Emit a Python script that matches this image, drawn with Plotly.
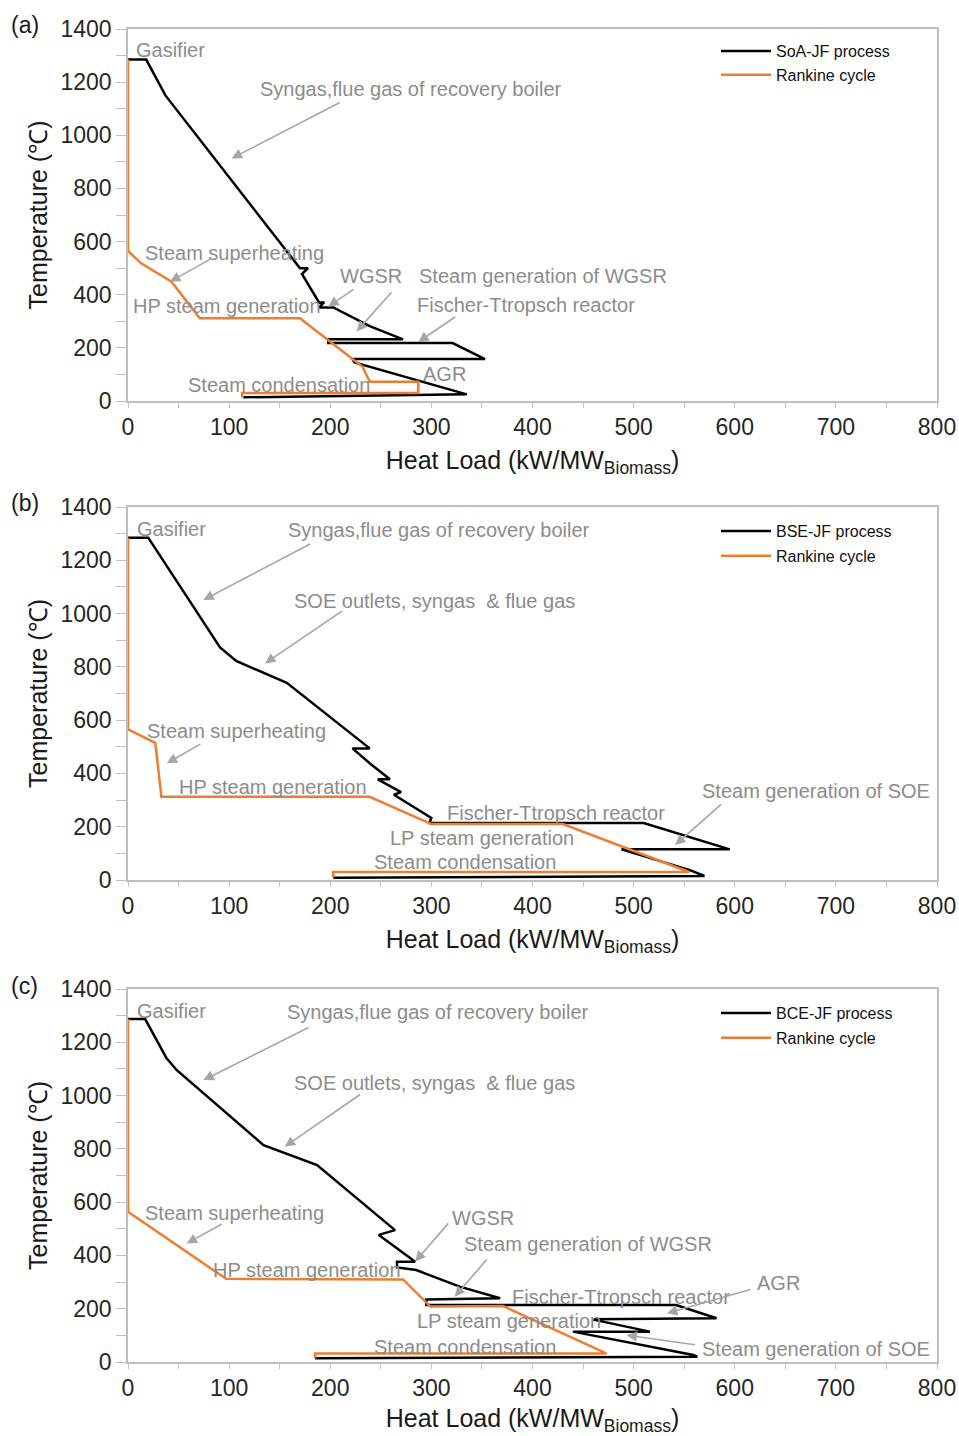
import plotly.graph_objects as go

# ---------------- data ----------------
# Panel (a) SoA-JF
HOT_A_X = [0, 18, 37, 170, 178, 172, 189, 194, 189, 203, 239, 272, 198, 198, 321, 353, 222, 224, 335, 114]
HOT_A_T = [1285, 1285, 1150, 500, 500, 478, 370, 372, 352, 352, 282, 232, 232, 218, 218, 158, 158, 145, 25, 14]
RANK_A_X = [0, 0, 13, 43, 71, 170, 232, 239, 287, 287, 113, 113]
RANK_A_T = [1285, 565, 518, 449, 311, 311, 129, 72, 72, 30, 30, 12]

# Panel (b) BSE-JF
HOT_B_X = [0, 20, 91, 107, 157, 239, 222, 239, 259, 247, 270, 263, 300, 298, 510, 595, 488, 555, 570, 203]
HOT_B_T = [1285, 1285, 873, 822, 740, 494, 494, 438, 378, 378, 330, 320, 233, 214, 214, 115, 115, 38, 15, 8]
RANK_B_X = [0, 0, 27, 33, 239, 300, 430, 555, 203, 203]
RANK_B_T = [1285, 565, 515, 312, 312, 210, 210, 30, 30, 10]

# Panel (c) BCE-JF
HOT_C_X = [0, 17, 38, 48, 134, 187, 264, 248, 284, 266, 266, 285, 328, 368, 295, 295, 542, 582, 459, 516, 440, 559, 563, 185]
HOT_C_T = [1287, 1287, 1141, 1096, 814, 739, 495, 477, 376, 376, 355, 345, 283, 239, 235, 214, 214, 164, 160, 114, 114, 26, 20, 14]
RANK_C_X = [0, 0, 97, 272, 299, 371, 473, 185, 185]
RANK_C_T = [1287, 564, 312, 310, 208, 210, 32, 32, 14]

PROCESS_NAMES = ["SoA-JF process", "BSE-JF process", "BCE-JF process"]
RANKINE_NAME = "Rankine cycle"
PANEL_TAGS = ["(a)", "(b)", "(c)"]

X_TICKS = [0, 100, 200, 300, 400, 500, 600, 700, 800]
Y_TICKS = [0, 200, 400, 600, 800, 1000, 1200, 1400]

# text labels: (text, x_left, y_center)
LABELS_A = [
    ("Gasifier", 6, 1321),
    ("Syngas,flue gas of recovery boiler", 128.6, 1174),
    ("Steam superheating", 14.8, 557),
    ("HP steam generation", 3, 357),
    ("WGSR", 207.7, 470),
    ("Steam generation of WGSR", 285.8, 470),
    ("Fischer-Ttropsch reactor", 283.8, 361),
    ("Steam condensation", 57.4, 60),
    ("AGR", 289.7, 102),
]
LABELS_B = [
    ("Gasifier", 7, 1317),
    ("Syngas,flue gas of recovery boiler", 156, 1314),
    ("SOE outlets, syngas  & flue gas", 162, 1047),
    ("Steam superheating", 16.8, 559),
    ("HP steam generation", 48.5, 349),
    ("Fischer-Ttropsch reactor", 313.5, 251),
    ("LP steam generation", 257, 158),
    ("Steam condensation", 241, 68),
    ("Steam generation of SOE", 565.6, 334),
]
LABELS_C = [
    ("Gasifier", 7, 1317),
    ("Syngas,flue gas of recovery boiler", 155, 1314),
    ("SOE outlets, syngas  & flue gas", 162, 1047),
    ("Steam superheating", 14.8, 559),
    ("HP steam generation", 82, 345),
    ("WGSR", 318.4, 540),
    ("Steam generation of WGSR", 330, 443),
    ("Fischer-Ttropsch reactor", 377.7, 244),
    ("AGR", 620, 296),
    ("LP steam generation", 283.8, 154),
    ("Steam condensation", 241, 56),
    ("Steam generation of SOE", 565.6, 49),
]
# arrows: (tail_x, tail_y, head_x, head_y)
ARROWS_A = [
    (211, 1126, 102.5, 913),
    (83, 537, 41.5, 449),
    (224.5, 424, 198, 355),
    (262, 415, 226, 262),
    (325, 320, 287, 222),
]
ARROWS_B = [
    (181.6, 1264, 74.5, 1051),
    (213, 1013, 135.5, 813),
    (73, 513, 38.3, 438),
    (588, 289, 541, 131),
]
ARROWS_C = [
    (180, 1258, 74.5, 1058),
    (231, 1008, 155, 808),
    (94, 520, 58, 445),
    (318, 526, 284, 377),
    (356, 390, 323, 245),
    (617, 274, 533, 183),
    (562, 64, 493, 101),
]

# ---------------- figure ----------------
BLACK = "#000000"
ORANGE = "#ED7D31"
GRAY_TXT = "#8c8c8c"
GRAY_ARROW = "#a6a6a6"
FONT = "Arial, Liberation Sans, sans-serif"

W, H = 959, 1436
ML, MR, MT, MB = 128, 22, 29, 74
PLOT_H = H - MT - MB
def py(p):  # page pixel -> paper fraction
    return (H - MB - p) / PLOT_H
def px(p):
    return (p - ML) / (W - ML - MR)

domains = [
    [py(401), py(29)],
    [py(880), py(507)],
    [py(1362), py(989)],
]

hot = [(HOT_A_X, HOT_A_T), (HOT_B_X, HOT_B_T), (HOT_C_X, HOT_C_T)]
rank = [(RANK_A_X, RANK_A_T), (RANK_B_X, RANK_B_T), (RANK_C_X, RANK_C_T)]
labels = [LABELS_A, LABELS_B, LABELS_C]
arrows = [ARROWS_A, ARROWS_B, ARROWS_C]
legend_tops = [34, 514, 996]

fig = go.Figure()
annotations = []
layout_axes = {}
for i in range(3):
    sfx = "" if i == 0 else str(i + 1)
    xa, ya = "x" + sfx, "y" + sfx
    lg = "legend" + sfx
    fig.add_trace(go.Scatter(
        x=hot[i][0], y=hot[i][1], mode="lines", name=PROCESS_NAMES[i],
        line=dict(color=BLACK, width=2.5), xaxis=xa, yaxis=ya, legend=lg,
        legendgroup="h%d" % i))
    fig.add_trace(go.Scatter(
        x=rank[i][0], y=rank[i][1], mode="lines", name=RANKINE_NAME,
        line=dict(color=ORANGE, width=2.5), xaxis=xa, yaxis=ya, legend=lg,
        legendgroup="r%d" % i))

    layout_axes["xaxis" + sfx] = dict(
        domain=[0, 1], anchor=ya, range=[0, 800], tickvals=X_TICKS,
        ticks="outside", ticklen=5, tickcolor="#bfbfbf",
        minor=dict(dtick=50, ticks="outside", ticklen=5, tickcolor="#bfbfbf"),
        showline=True, mirror=True, linecolor="#bfbfbf", linewidth=1.5,
        showgrid=False, zeroline=False, automargin=False,
        tickfont=dict(size=23, color="#262626", family=FONT),
        title=dict(text="Heat Load (kW/MW<sub>Biomass</sub>)",
                   font=dict(size=25, color="#1a1a1a", family=FONT), standoff=12),
    )
    layout_axes["yaxis" + sfx] = dict(
        domain=domains[i], anchor=xa, range=[0, 1400], tickvals=Y_TICKS,
        ticks="outside", ticklen=10, tickcolor="#bfbfbf",
        minor=dict(dtick=100, ticks="outside", ticklen=10, tickcolor="#bfbfbf"),
        showline=True, mirror=True, linecolor="#bfbfbf", linewidth=1.5,
        showgrid=False, zeroline=False, automargin=False,
        tickfont=dict(size=23, color="#262626", family=FONT),
        title=dict(text="Temperature (℃)",
                   font=dict(size=25, color="#1a1a1a", family=FONT), standoff=6),
    )
    layout_axes[lg] = dict(
        x=px(716), y=py(legend_tops[i]), xanchor="left", yanchor="top",
        bgcolor="rgba(0,0,0,0)", font=dict(size=16, color="#111", family=FONT),
        tracegroupgap=0 if i == 0 else 1, itemwidth=50,
    )

    for (t, x, y) in labels[i]:
        annotations.append(dict(
            text=t, x=x, y=y, xref=xa, yref=ya, xanchor="left", yanchor="middle",
            showarrow=False, font=dict(size=20, color=GRAY_TXT, family=FONT)))
    for (tx, ty, hx, hy) in arrows[i]:
        annotations.append(dict(
            text="", x=hx, y=hy, ax=tx, ay=ty, xref=xa, yref=ya,
            axref=xa, ayref=ya, showarrow=True, arrowhead=2, arrowsize=1.3,
            arrowwidth=1.6, arrowcolor=GRAY_ARROW))
    annotations.append(dict(
        text=PANEL_TAGS[i], x=px(9), y=py([25, 503, 986][i]), xref="paper",
        yref="paper", xanchor="left", yanchor="middle", showarrow=False,
        font=dict(size=23, color="#1a1a1a", family=FONT)))

fig.update_layout(
    width=W, height=H,
    margin=dict(l=ML, r=MR, t=MT, b=MB, autoexpand=False),
    paper_bgcolor="white", plot_bgcolor="white",
    annotations=annotations,
    showlegend=True,
    **layout_axes,
)

fig.write_html(
    "out.html",
    config={"displayModeBar": False},
    post_script="document.body.style.margin='0px';document.body.style.overflow='hidden';",
)
